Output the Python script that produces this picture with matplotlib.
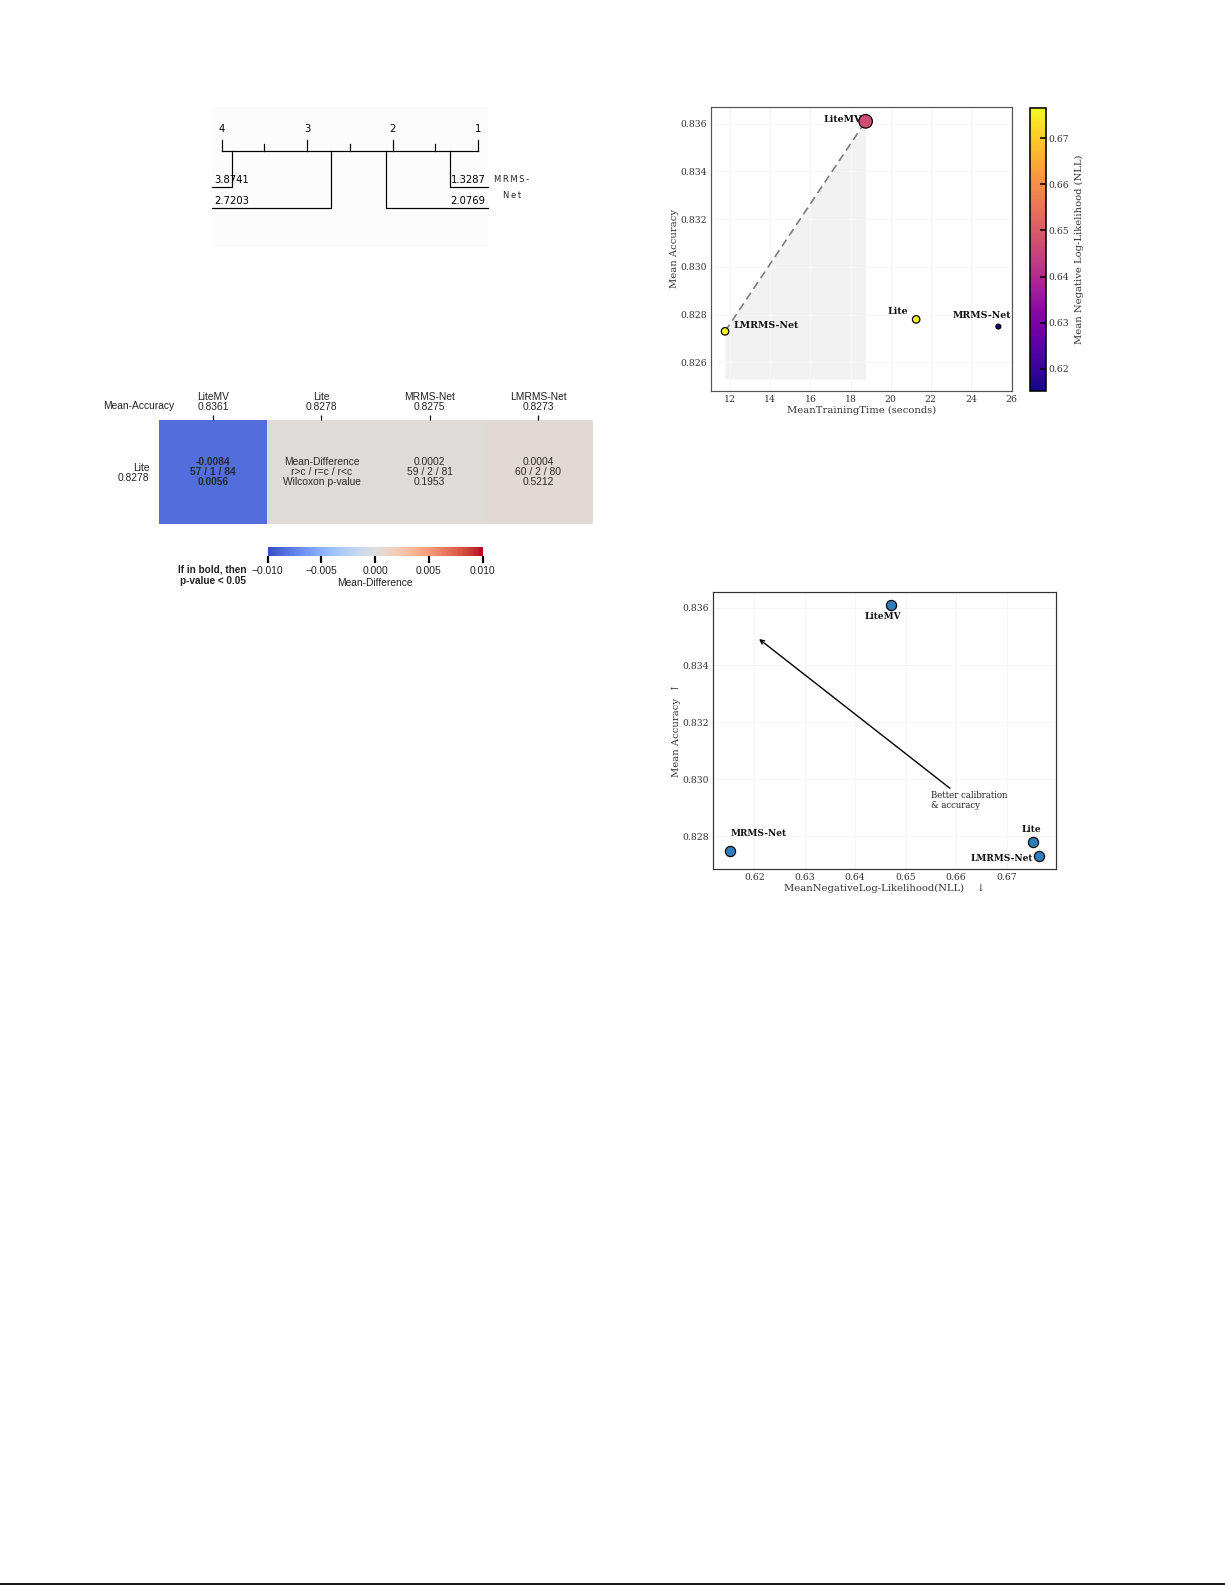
import numpy as np
import matplotlib
matplotlib.use('Agg')
from matplotlib import pyplot as plt
from matplotlib import cm, colors
from matplotlib.lines import Line2D
from matplotlib.patches import Rectangle

W, H = 1225, 1585
DPI = 144

# ---- data ----
models = ["LiteMV", "Lite", "MRMS-Net", "LMRMS-Net"]
mean_acc = [0.8361, 0.8278, 0.8275, 0.8273]
mean_time = [18.75, 21.27, 25.37, 11.74]
mean_nll = [0.6470, 0.6752, 0.6152, 0.6765]
time_marker_size = [46, 14, 6, 14]

cd_ranks = [3.8741, 2.7203, 2.0769, 1.3287]
cd_names = ["", "", "", "MRMS-\nNet"]

hm_row = "Lite"
hm_means = [-0.0084, 0.0, 0.0002, 0.0004]
hm_wtl = ["57 / 1 / 84", "", "59 / 2 / 81", "60 / 2 / 80"]
hm_pvals = [0.0056, np.nan, 0.1953, 0.5212]

acc_ticks = [0.826, 0.828, 0.830, 0.832, 0.834, 0.836]
time_ticks = [12, 14, 16, 18, 20, 22, 24, 26]
nll_ticks = [0.62, 0.63, 0.64, 0.65, 0.66, 0.67]
md_ticks = [-0.010, -0.005, 0.0, 0.005, 0.010]


def box(x0, y0, x1, y1):
    # pixel box (top-left origin) -> figure fraction rect
    return [x0 / W, 1 - y1 / H, (x1 - x0) / W, (y1 - y0) / H]


fig = plt.figure(figsize=(W / DPI, H / DPI), dpi=DPI)
fig.patch.set_facecolor('white')

# ================= CD diagram =================
ax1 = fig.add_axes(box(205, 100, 540, 250))
ax1.set_xlim(4.195, 0.274)
ax1.set_ylim(250, 100)
ax1.axis('off')
ax1.add_patch(Rectangle((0.886, 107), 4.11 - 0.886, 140, facecolor='#fcfcfc',
                        edgecolor='none', zorder=0))
axis_y = 151
ax1.plot([4, 1], [axis_y, axis_y], color='black', lw=0.6)
for r in [4, 3, 2, 1]:
    ax1.plot([r, r], [axis_y, 140], color='black', lw=0.6)
    ax1.text(r, 134, str(r), ha='center', va='bottom', fontsize=5, family='DejaVu Sans')
for r in [3.5, 2.5, 1.5]:
    ax1.plot([r, r], [axis_y, 144], color='black', lw=0.6)

left_rows = [187, 208]
right_rows = [187, 208]
left = sorted([r for r in cd_ranks if r > 2.5], reverse=True)
right = sorted([r for r in cd_ranks if r <= 2.5])
for i, r in enumerate(left):
    y = left_rows[i]
    ax1.plot([r, r, 4.11], [axis_y, y, y], color='black', lw=0.6)
    ax1.text(4.09, y - 2, f"{r:.4f}", ha='left', va='bottom', fontsize=5, family='DejaVu Sans')
for i, r in enumerate(right):
    y = right_rows[i]
    ax1.plot([r, r, 0.886], [axis_y, y, y], color='black', lw=0.6)
    ax1.text(0.91, y - 2, f"{r:.4f}", ha='right', va='bottom', fontsize=5, family='DejaVu Sans')
    name = cd_names[cd_ranks.index(r)]
    if name:
        spaced = "\n".join("\u2009".join(part) for part in name.split("\n"))
        ax1.text(0.605, y + 1, spaced, ha='center', va='center', fontsize=4.2,
                 family='DejaVu Sans', linespacing=2.0, color='#222222')

# ================= heatmap =================
sans = 'Liberation Sans'
fs_hm = 5.15
cmap_md = plt.get_cmap('coolwarm')
norm_md = colors.Normalize(vmin=-0.010, vmax=0.010)
ax2 = fig.add_axes(box(159, 420, 592.3, 524))
ax2.imshow(np.array([hm_means]), cmap=cmap_md, norm=norm_md, aspect='auto')
for s in ax2.spines.values():
    s.set_visible(False)
ax2.xaxis.tick_top()
ax2.set_xticks(range(len(models)))
ax2.set_xticklabels([f"{m}\n{a:.4f}" for m, a in zip(models, mean_acc)],
                    fontsize=fs_hm, family=sans, linespacing=1.05, color='#222222')
ax2.tick_params(axis='x', length=2.5, width=0.6, pad=1.5)
ax2.set_yticks([0])
ax2.set_yticklabels([f"{hm_row}\n{mean_acc[models.index(hm_row)]:.4f}"],
                    fontsize=fs_hm, family=sans, linespacing=1.05, color='#222222')
ax2.tick_params(axis='y', length=0, pad=4.8)
for lab in ax2.get_yticklabels():
    lab.set_horizontalalignment('right')
ax2.text(-0.36, -0.63, "Mean-Accuracy", ha='right', va='center',
         fontsize=fs_hm, family=sans, color='#222222')
for j in range(len(models)):
    if np.isnan(hm_pvals[j]):
        txt = "Mean-Difference\nr>c / r=c / r<c\nWilcoxon p-value"
        bold = False
    else:
        txt = f"{hm_means[j]:.4f}\n{hm_wtl[j]}\n{hm_pvals[j]:.4f}"
        bold = hm_pvals[j] < 0.05
    ax2.text(j, 0, txt, ha='center', va='center', fontsize=fs_hm, family=sans,
             fontweight='bold' if bold else 'normal', color='#2a2a2a', linespacing=1.05)

cax2 = fig.add_axes(box(267.7, 546.7, 482.7, 555.7))
cb2 = fig.colorbar(cm.ScalarMappable(norm=norm_md, cmap=cmap_md), cax=cax2,
                   orientation='horizontal', ticks=md_ticks)
cb2.outline.set_visible(False)
cb2.ax.tick_params(length=3.5, width=1.1, labelsize=fs_hm, pad=1.5, labelcolor='#222222')
cb2.ax.set_xticklabels([f"{t:.3f}".replace('-', '\u2212') if t != 0 else "0.000" for t in md_ticks],
                       family=sans)
cb2.set_label("Mean-Difference", fontsize=fs_hm, family=sans, labelpad=1.2, color='#222222')
fig.text(212.5 / W, 1 - 575.5 / H, "If in bold, then\np-value < 0.05", ha='center', va='center',
         fontsize=5.0, fontweight='bold', family=sans, linespacing=1.15, color='#222222')

# ================= accuracy vs training time =================
serif = ['DejaVu Serif', 'DejaVu Sans']
ax3 = fig.add_axes(box(711, 107, 1012, 391))
order = np.argsort(mean_time)
front_t, front_a = [], []
best = -1
for i in order:
    if mean_acc[i] > best:
        best = mean_acc[i]
        front_t.append(mean_time[i])
        front_a.append(mean_acc[i])
ax3.fill_between(front_t, front_a, min(mean_acc) - 0.002, color='#f2f2f2',
                 zorder=1, lw=0)
ax3.plot(front_t, front_a, ls=(0, (5, 3)), color='#777777', lw=0.8, zorder=2)
sc = ax3.scatter(mean_time, mean_acc, s=time_marker_size, c=mean_nll, cmap='plasma',
                 vmin=min(mean_nll), vmax=max(mean_nll), edgecolors='black',
                 linewidths=0.6, zorder=3)
ax3.set_xlim(11.04, 26.05)
ax3.set_ylim(0.8248, 0.8367)
ax3.set_xticks(time_ticks)
ax3.set_yticks(acc_ticks)
ax3.set_yticklabels([f"{t:.3f}" for t in acc_ticks])
ax3.grid(True, color='#f6f6f6', lw=0.5, zorder=0)
ax3.tick_params(length=0, labelsize=4.6, pad=2, labelcolor='#333333')
for lab in ax3.get_xticklabels() + ax3.get_yticklabels():
    lab.set_family('DejaVu Serif')
for s in ax3.spines.values():
    s.set_color('#555555')
    s.set_linewidth(0.6)
ax3.set_xlabel("MeanTrainingTime (seconds)", fontsize=5, family=serif, labelpad=1, color='#333333')
ax3.set_ylabel("Mean Accuracy", fontsize=5, family=serif, labelpad=0.5, color='#333333')
offsets3 = {"LiteMV": (-2, 1, 'right'), "LMRMS-Net": (4, 3, 'left'),
            "Lite": (-4, 4, 'right'), "MRMS-Net": (6.3, 5.3, 'right')}
for m, t, a in zip(models, mean_time, mean_acc):
    dx, dy, ha = offsets3[m]
    ax3.annotate(m, (t, a), xytext=(dx, dy), textcoords='offset points', ha=ha, va='center',
                 fontsize=4.7, fontweight='bold', family='DejaVu Serif', color='#111111', zorder=4)

cax3 = fig.add_axes(box(1030, 108, 1046, 391))
cb3 = fig.colorbar(sc, cax=cax3, ticks=nll_ticks)
cb3.outline.set_linewidth(0.8)
cb3.ax.tick_params(direction='in', length=3, width=0.8, labelsize=4.6, pad=1, labelcolor='#333333')
for lab in cb3.ax.get_yticklabels():
    lab.set_family('DejaVu Serif')
cb3.set_label("Mean Negative Log-Likelihood (NLL)", fontsize=5, family=serif, labelpad=3,
              color='#333333')

# ================= accuracy vs NLL =================
ax4 = fig.add_axes(box(713, 592, 1056, 869))
ax4.scatter(mean_nll, mean_acc, s=26, color='#2f7dba', edgecolors='black', linewidths=0.6, zorder=3)
ax4.set_xlim(0.6118, 0.6798)
ax4.set_ylim(0.82686, 0.83656)
ax4.set_xticks(nll_ticks)
ax4.set_xticklabels([f"{t:.2f}" for t in nll_ticks])
ax4.set_yticks(acc_ticks[1:])
ax4.set_yticklabels([f"{t:.3f}" for t in acc_ticks[1:]])
ax4.grid(True, color='#f6f6f6', lw=0.5, zorder=0)
ax4.tick_params(length=0, labelsize=4.6, pad=2, labelcolor='#333333')
for lab in ax4.get_xticklabels() + ax4.get_yticklabels():
    lab.set_family('DejaVu Serif')
for s in ax4.spines.values():
    s.set_color('#333333')
    s.set_linewidth(0.6)
ax4.set_xlabel("MeanNegativeLog-Likelihood(NLL)    \u2193", fontsize=5.0, family=serif,
               labelpad=1, color='#333333')
ax4.set_ylabel("Mean Accuracy  \u2191", fontsize=5.0, family=serif, labelpad=0.5, color='#333333')
offsets4 = {"LiteMV": (-3.7, -5.8, 'center'), "MRMS-Net": (0, 8.8, 'left'),
            "Lite": (-0.5, 6.2, 'center'), "LMRMS-Net": (-3.3, -1, 'right')}
for m, n, a in zip(models, mean_nll, mean_acc):
    dx, dy, ha = offsets4[m]
    ax4.annotate(m, (n, a), xytext=(dx, dy), textcoords='offset points', ha=ha, va='center',
                 fontsize=4.5, fontweight='bold', family='DejaVu Serif', color='#111111', zorder=4)
ax4.annotate('', xy=(0.6203, 0.8350), xytext=(0.6594, 0.8296),
             arrowprops=dict(arrowstyle='->', color='black', lw=0.7, mutation_scale=5))
ax4.text(0.6551, 0.82958, "Better calibration\n& accuracy", ha='left', va='top',
         fontsize=4.3, family='DejaVu Serif', color='#222222', linespacing=1.1)

# page footer rule
fig.add_artist(Line2D([0, 1], [1 - 1583.6 / H] * 2, transform=fig.transFigure,
                      color='black', lw=0.9))

fig.savefig('out.png', dpi=DPI)
